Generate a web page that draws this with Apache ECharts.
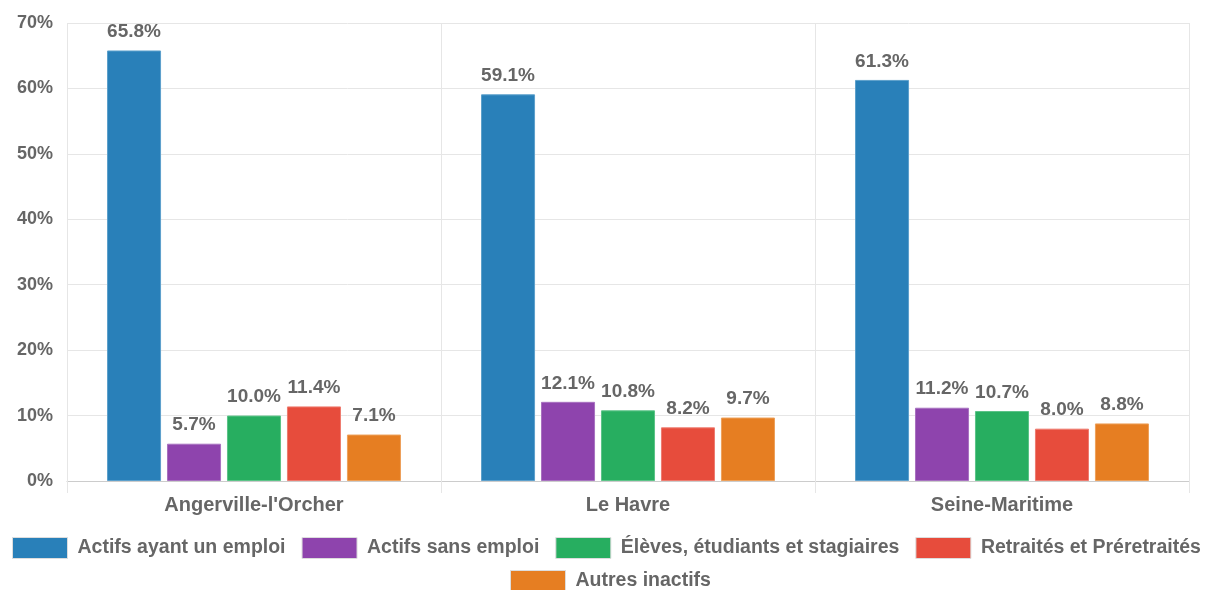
<!DOCTYPE html>
<html>
<head>
<meta charset="utf-8">
<script src="https://cdn.jsdelivr.net/npm/echarts@6/dist/echarts.min.js"></script>
<style>
  html, body { margin: 0; padding: 0; background: #fff; }
  #chart { width: 1210px; height: 590px; }
</style>
</head>
<body>
<div id="chart"></div>
<script>
// Population de 15 à 64 ans par type d'activité
const categories = ["Angerville-l'Orcher", 'Le Havre', 'Seine-Maritime'];
const seriesNames = [
  'Actifs ayant un emploi',
  'Actifs sans emploi',
  'Élèves, étudiants et stagiaires',
  'Retraités et Préretraités',
  'Autres inactifs'
];
const actifsEmploi = [65.8, 59.1, 61.3];
const actifsSansEmploi = [5.7, 12.1, 11.2];
const eleves = [10.0, 10.8, 10.7];
const retraites = [11.4, 8.2, 8.0];
const autresInactifs = [7.1, 9.7, 8.8];
const yTicks = [0, 10, 20, 30, 40, 50, 60, 70];

const values = [actifsEmploi, actifsSansEmploi, eleves, retraites, autresInactifs];
const colors = ['#2980b9', '#8e44ad', '#27ae60', '#e74c3c', '#e67e22'];
const borders = ['#5da0cc', '#a872c0', '#5cc488', '#ee7c70', '#eda05a'];
const textColor = '#666666';
const fontFamily = '"Liberation Sans", Arial, sans-serif';

const chart = echarts.init(document.getElementById('chart'), null, { renderer: 'canvas' });

const series = seriesNames.map((name, i) => ({
  name: name,
  type: 'bar',
  data: values[i],
  barGap: '11%',
  barCategoryGap: '21.4%',
  itemStyle: { color: colors[i], borderColor: borders[i], borderWidth: 1 },
  label: {
    show: true,
    position: 'top',
    distance: 9,
    color: textColor,
    fontWeight: 'bold',
    fontSize: 19,
    fontFamily: fontFamily,
    formatter: p => p.value.toFixed(1) + '%'
  }
}));

const legendCommon = {
  orient: 'horizontal',
  padding: 0,
  width: 1205,
  itemWidth: 55,
  itemHeight: 21,
  itemGap: 16,
  icon: 'rect',
  textStyle: {
    color: textColor, fontSize: 19.5, fontFamily: fontFamily, fontWeight: 'bold',
    padding: [0, 0, 0, 5]
  }
};

chart.setOption({
  animation: false,
  color: colors,
  grid: { left: 67, right: 21, top: 23, bottom: 109, containLabel: false },
  legend: [
    Object.assign({}, legendCommon, {
      left: 12, top: 537,
      data: seriesNames.slice(0, 4).map(n => ({ name: n, itemStyle: { borderColor: '#dddddd', borderWidth: 1 } }))
    }),
    Object.assign({}, legendCommon, {
      left: 510, top: 570,
      data: seriesNames.slice(4).map(n => ({ name: n, itemStyle: { borderColor: '#dddddd', borderWidth: 1 } }))
    })
  ],
  xAxis: {
    type: 'category',
    data: categories,
    axisLine: { show: true, lineStyle: { color: '#cccccc', width: 1 } },
    axisTick: { show: true, length: 12, lineStyle: { color: '#e6e6e6' } },
    splitLine: { show: true, lineStyle: { color: '#e6e6e6' } },
    axisLabel: { color: textColor, fontSize: 20, fontWeight: 'bold', fontFamily: fontFamily, margin: 14 }
  },
  yAxis: {
    type: 'value',
    min: yTicks[0],
    max: yTicks[yTicks.length - 1],
    interval: 10,
    axisLine: { show: false },
    axisTick: { show: false },
    splitLine: { lineStyle: { color: '#e6e6e6' } },
    axisLabel: { color: textColor, fontSize: 18, fontWeight: 'bold', fontFamily: fontFamily, margin: 14, formatter: v => v + '%' }
  },
  series: series
});
</script>
</body>
</html>
